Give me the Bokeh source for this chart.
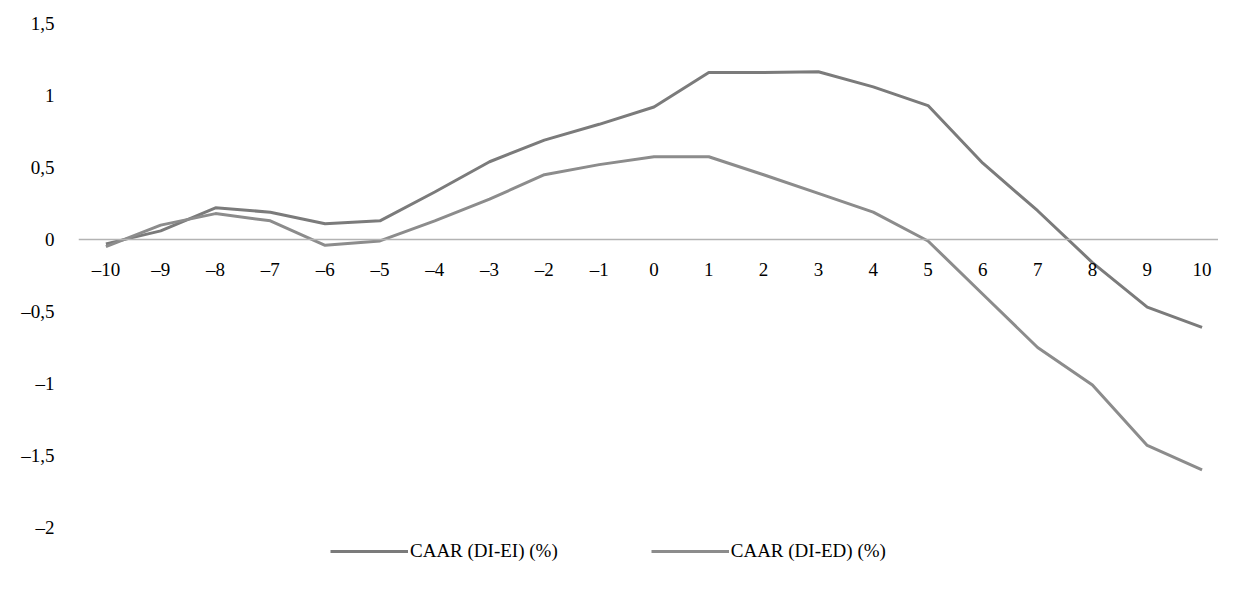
from bokeh.plotting import figure
from bokeh.models import FixedTicker, Legend, LegendItem, Range1d
from bokeh.embed import file_html
from bokeh.resources import INLINE

days = list(range(-10, 11))
day_labels = ["–10", "–9", "–8", "–7", "–6", "–5", "–4", "–3", "–2", "–1", "0",
              "1", "2", "3", "4", "5", "6", "7", "8", "9", "10"]
caar_di_ei = [-0.03, 0.06, 0.22, 0.19, 0.11, 0.13, 0.33, 0.54, 0.69, 0.80, 0.92,
              1.16, 1.16, 1.165, 1.06, 0.93, 0.53, 0.20, -0.16, -0.47, -0.61]
caar_di_ed = [-0.05, 0.10, 0.18, 0.13, -0.04, -0.01, 0.13, 0.28, 0.45, 0.52, 0.575,
              0.575, 0.45, 0.32, 0.19, -0.01, -0.38, -0.75, -1.01, -1.43, -1.60]
y_ticks = [-2, -1.5, -1, -0.5, 0, 0.5, 1, 1.5]
y_labels = ["–2", "–1,5", "–1", "–0,5", "0", "0,5", "1", "1,5"]
series_names = ["CAAR (DI-EI) (%)", "CAAR (DI-ED) (%)"]
colors = ["#7b7b7b", "#8c8c8c"]

FONT = "Liberation Serif"

# frame spans to the bottom of the figure so the legend can sit inside it
p = figure(width=1218, height=574, output_backend="svg", toolbar_location=None,
           x_range=Range1d(-10.5, 10.3), y_range=Range1d(-2.326, 1.5),
           min_border_left=78, min_border_right=0, min_border_top=23,
           min_border_bottom=0)
p.outline_line_color = None
p.xgrid.visible = False
p.ygrid.visible = False

r1 = p.line(days, caar_di_ei, line_color=colors[0], line_width=3)
r2 = p.line(days, caar_di_ed, line_color=colors[1], line_width=3)

xa = p.xaxis[0]
xa.fixed_location = 0
xa.ticker = FixedTicker(ticks=days)
xa.major_label_overrides = {d: l for d, l in zip(days, day_labels)}
xa.axis_line_color = "#b3b3b3"
xa.axis_line_width = 1.3
xa.major_tick_line_color = None
xa.minor_tick_line_color = None
xa.major_label_standoff = 13
xa.major_label_text_font = FONT
xa.major_label_text_font_size = "19px"
xa.major_label_text_color = "#000000"

ya = p.yaxis[0]
ya.ticker = FixedTicker(ticks=y_ticks)
ya.major_label_overrides = {t: l for t, l in zip(y_ticks, y_labels)}
ya.axis_line_color = None
ya.major_tick_line_color = None
ya.minor_tick_line_color = None
ya.major_label_standoff = 18
ya.major_label_text_font = FONT
ya.major_label_text_font_size = "19px"
ya.major_label_text_color = "#000000"

legend = Legend(items=[LegendItem(label=series_names[0], renderers=[r1]),
                       LegendItem(label=series_names[1], renderers=[r2])],
                orientation="horizontal", location=(252, 12),
                glyph_width=78, glyph_height=20, label_standoff=2, spacing=93,
                padding=0, margin=0, border_line_color=None,
                background_fill_alpha=0,
                label_text_font=FONT, label_text_font_size="19px",
                label_text_color="#000000")
p.add_layout(legend, "center")

open("out.html", "w").write(file_html(p, INLINE))
